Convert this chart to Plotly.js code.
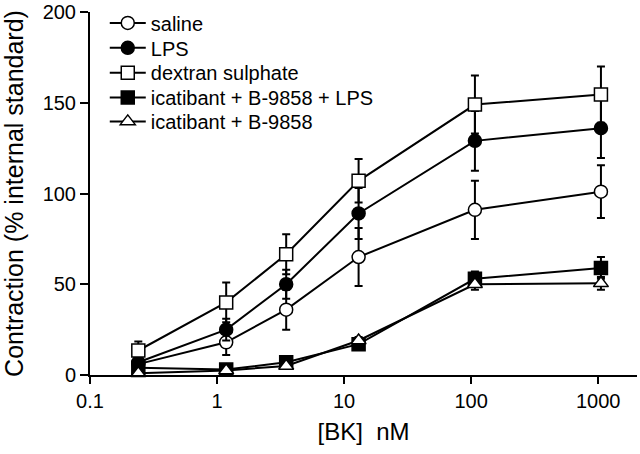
<!DOCTYPE html>
<html><head><meta charset="utf-8">
<script src="https://cdn.plot.ly/plotly-3.0.1.min.js"></script>
<style>html,body{margin:0;padding:0;background:#fff}#chart{width:640px;height:454px}</style>
</head><body><div id="chart"></div>
<script>
const doseBK = [0.24, 1.18, 3.5, 13, 107, 1050];
const seriesNames = ["saline", "LPS", "dextran sulphate", "icatibant + B-9858 + LPS", "icatibant + B-9858"];
const saline = [6, 18, 36, 65, 91, 101];
const salineErr = [3, 7, 11, 16, 16, 14.5];
const lps = [7, 25, 50, 89, 129, 136];
const lpsErr = [3, 6, 8, 14, 16.5, 16.5];
const dextran = [13.5, 40, 66.5, 107, 149, 154.5];
const dextranErr = [5, 11, 11, 12, 16, 15.5];
const icatLps = [4, 3, 7, 17, 53, 59];
const icatLpsErr = [2, 1, 1.5, 2, 4, 6];
const icat = [1, 2.5, 5, 19, 50, 50.5];
const icatErr = [1, 1, 1, 2, 3, 3.5];

const yVals = [saline, lps, dextran, icatLps, icat];
const yErrs = [salineErr, lpsErr, dextranErr, icatLpsErr, icatErr];
const symbols = ["circle", "circle", "square", "square", "triangle-up"];
const fills = ["#ffffff", "#000000", "#ffffff", "#000000", "#ffffff"];
const legendIds = ["legend", "legend2", "legend3", "legend4", "legend5"];

const traces = seriesNames.map((name, i) => ({
  type: "scatter", mode: "lines+markers", name: name, legend: legendIds[i],
  x: doseBK, y: yVals[i],
  error_y: {type: "data", array: yErrs[i], visible: true, color: "#000", thickness: 2, width: 4},
  line: {color: "#000", width: 2},
  marker: {symbol: symbols[i], size: 13, color: fills[i], line: {color: "#000", width: 1.5}},
  cliponaxis: false
}));

const font = {family: "Liberation Sans, Arial, sans-serif", color: "#000"};
const layout = {
  width: 640, height: 454,
  margin: {l: 90, r: 3, t: 10, b: 79},
  paper_bgcolor: "#fff", plot_bgcolor: "#fff",
  font: Object.assign({size: 20}, font),
  showlegend: true,
  xaxis: {
    type: "log", range: [-1, 3.305],
    tickvals: [0.1, 1, 10, 100, 1000], ticktext: ["0.1", "1", "10", "100", "1000"],
    ticks: "outside", ticklen: 7, tickwidth: 2, tickcolor: "#000",
    showline: true, linecolor: "#000", linewidth: 2, showgrid: false, zeroline: false,
    tickfont: Object.assign({size: 20}, font),
    title: {text: "[BK]  nM", font: Object.assign({size: 24}, font), standoff: 12}
  },
  yaxis: {
    range: [0, 200], tickvals: [0, 50, 100, 150, 200],
    ticks: "outside", ticklen: 8, tickwidth: 2, tickcolor: "#000",
    showline: true, linecolor: "#000", linewidth: 2, showgrid: false, zeroline: false,
    tickfont: Object.assign({size: 20}, font),
    title: {text: "Contraction (% internal standard)", font: Object.assign({size: 25}, font), standoff: 12}
  }
};
const rowPx = [21, 46, 71, 96, 120];
legendIds.forEach((id, i) => {
  layout[id] = {x: 0.027, y: (375 - rowPx[i]) / 365, xanchor: "left", yanchor: "middle",
    bgcolor: "rgba(0,0,0,0)", font: Object.assign({size: 20}, font), itemwidth: 36, borderwidth: 0};
});
Plotly.newPlot("chart", traces, layout, {displayModeBar: false, staticPlot: true});
</script></body></html>
